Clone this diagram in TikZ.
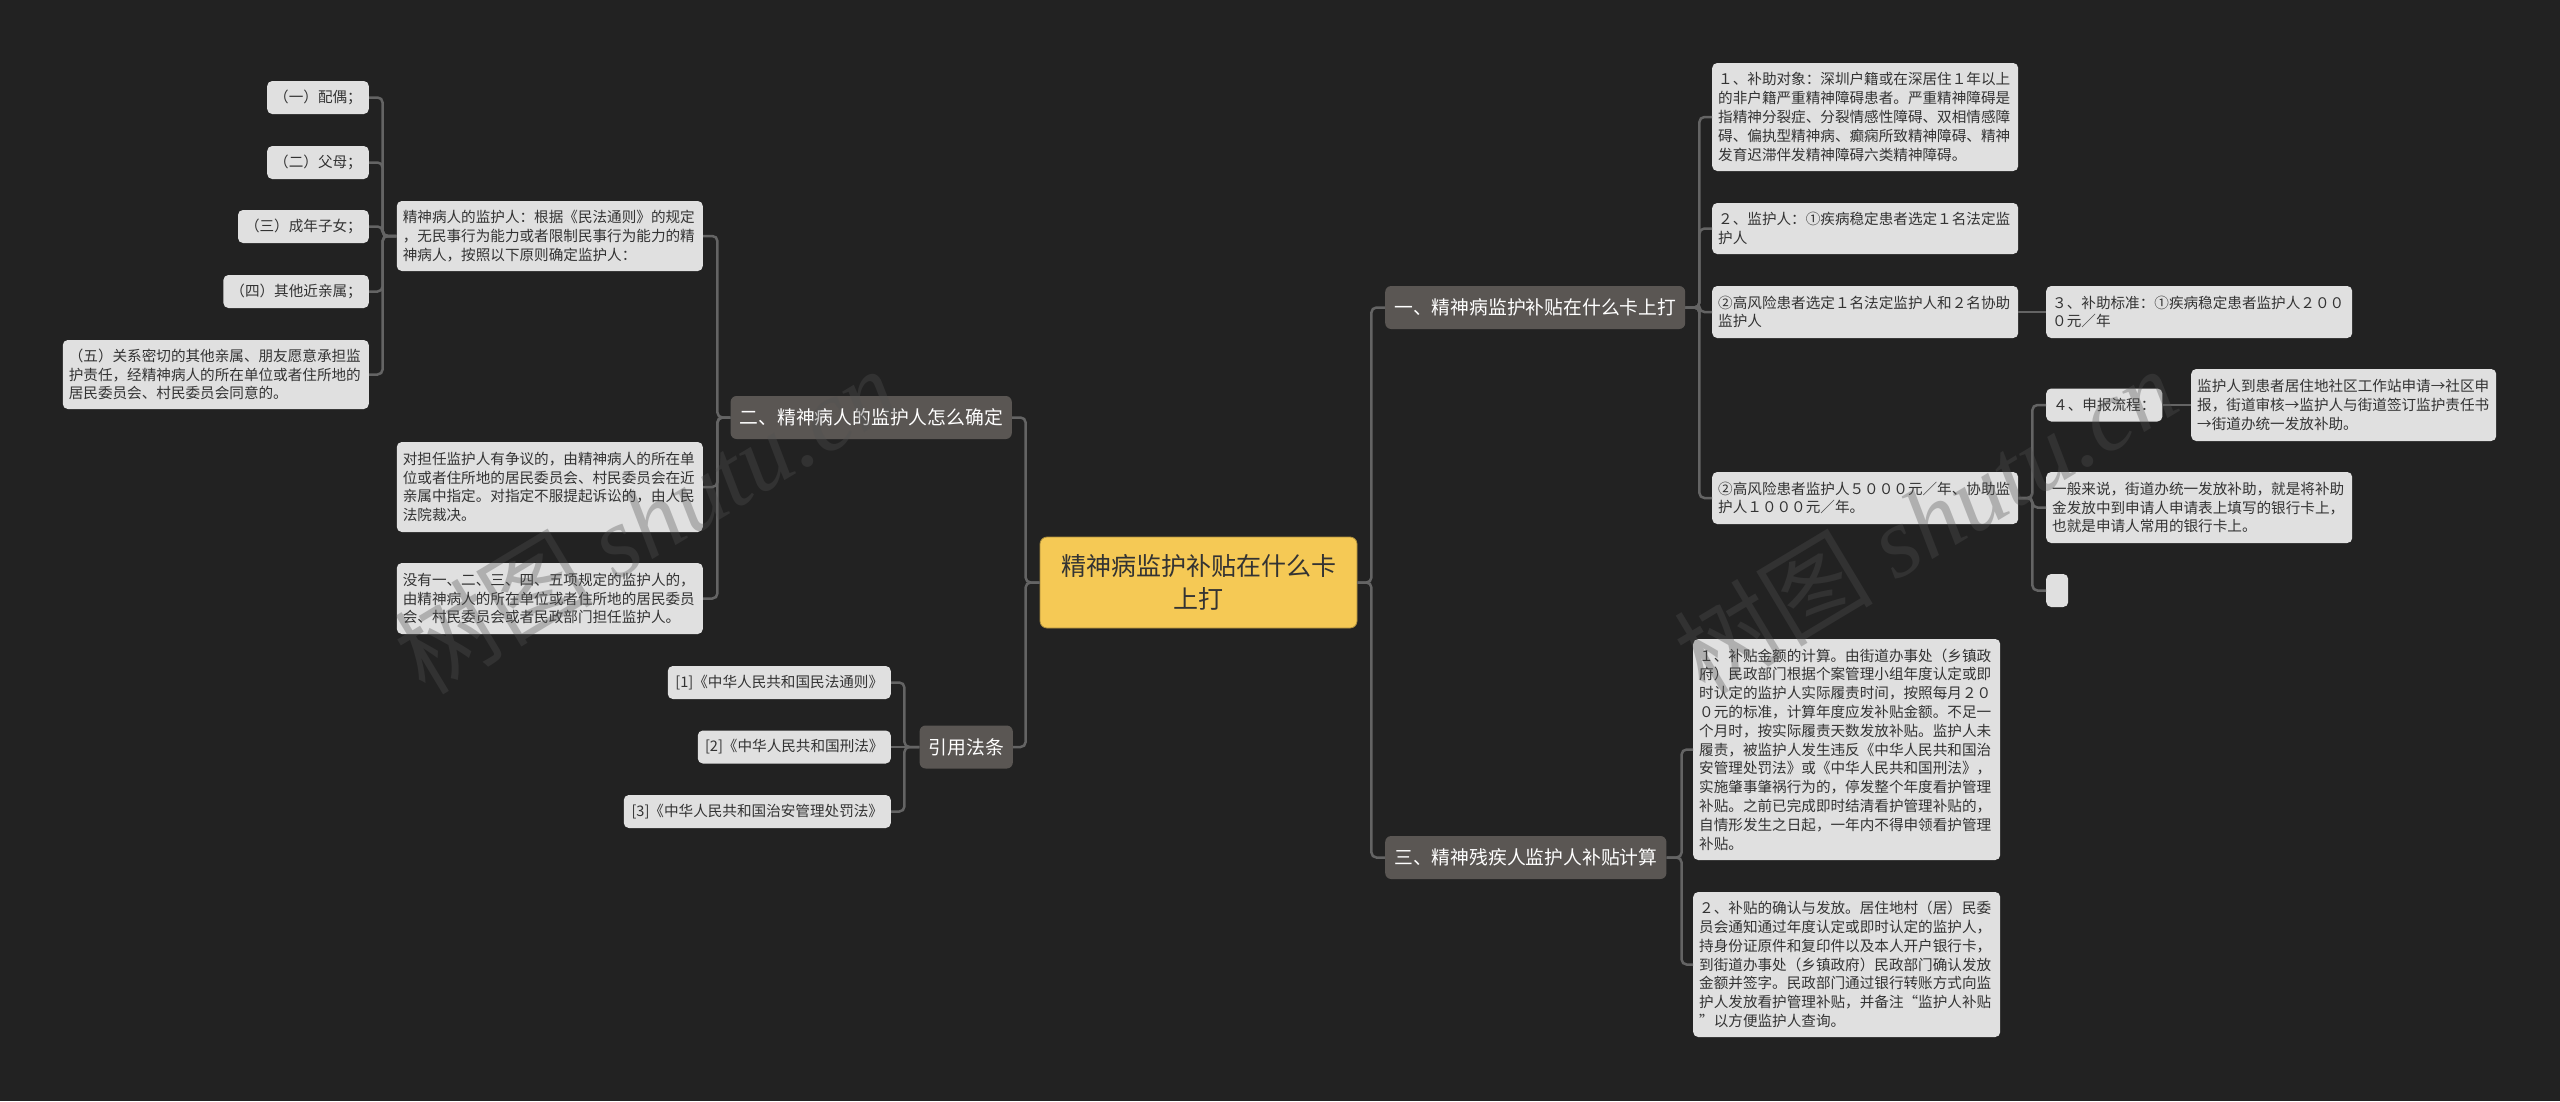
\documentclass[tikz,border=0pt]{standalone}
\usepackage{fontspec}
\setmainfont{Noto Sans CJK SC}
\newfontfamily\wmlatin{Liberation Serif}
\definecolor{bgc}{HTML}{222222}
\definecolor{leafc}{HTML}{E0E0E0}
\definecolor{leaftxt}{HTML}{333333}
\definecolor{branchc}{HTML}{5A5653}
\definecolor{rootc}{HTML}{F5C955}
\definecolor{wirec}{HTML}{646464}
\definecolor{wmc}{HTML}{515151}
\tikzset{
  leafbox/.style={fill=leafc, text=leaftxt, rounded corners=5pt, inner xsep=6pt, inner ysep=0pt,
    font=\fontsize{14.6}{18.8}\selectfont, align=left},
  leafone/.style={leafbox, inner xsep=7pt, minimum height=33pt, align=center},
  branchbox/.style={fill=branchc, text=white, rounded corners=6pt, inner xsep=9pt, inner ysep=0pt,
    minimum height=43pt, font=\fontsize{18.8}{22}\selectfont},
  rootbox/.style={fill=rootc, draw=rootc!70!black, line width=0.8pt, text=leaftxt, rounded corners=7pt,
    minimum width=317pt, minimum height=91pt, align=center, font=\fontsize{25}{33}\selectfont},
  wire/.style={draw=wirec, line width=2.5pt, rounded corners=5pt},
  wmark/.style={rotate=31, text=wmc, opacity=0.34, font=\fontsize{100}{100}\selectfont}
}
\begin{document}
\begin{tikzpicture}[x=1pt,y=-1pt]
\fill[bgc] (0,0) rectangle (2560,1101);
\useasboundingbox (0,0) rectangle (2560,1101);

% root
\node[rootbox] (root) at (1198.5,582.5) {精神病监护补贴在什么卡\\上打};

% main branches
\node[branchbox, anchor=east] (b2) at (1012,417.5) {二、精神病人的监护人怎么确定};
\node[branchbox, anchor=east] (b4) at (1013,747) {引用法条};
\node[branchbox, anchor=west] (b1) at (1385,307.5) {一、精神病监护补贴在什么卡上打};
\node[branchbox, anchor=west] (b3) at (1385,857.5) {三、精神残疾人监护人补贴计算};

% left: under 二
\node[leafbox, anchor=east, text width=294pt, minimum height=70pt] (l1) at (703,236)
 {精神病人的监护人：根据《民法通则》的规定\\，无民事行为能力或者限制民事行为能力的精\\神病人，按照以下原则确定监护人：};
\node[leafbox, anchor=east, text width=294pt, minimum height=90pt] (l2) at (703,487)
 {对担任监护人有争议的，由精神病人的所在单\\位或者住所地的居民委员会、村民委员会在近\\亲属中指定。对指定不服提起诉讼的，由人民\\法院裁决。};
\node[leafbox, anchor=east, text width=294pt, minimum height=71pt] (l3) at (703,598.5)
 {没有一、二、三、四、五项规定的监护人的，\\由精神病人的所在单位或者住所地的居民委员\\会、村民委员会或者民政部门担任监护人。};

\node[leafone, anchor=east] (k1) at (369,97.5) {（一）配偶；};
\node[leafone, anchor=east] (k2) at (369,162.5) {（二）父母；};
\node[leafone, anchor=east] (k3) at (369,226.5) {（三）成年子女；};
\node[leafone, anchor=east] (k4) at (369,291.5) {（四）其他近亲属；};
\node[leafbox, anchor=east, text width=294pt, minimum height=69pt] (k5) at (369,374.5)
 {（五）关系密切的其他亲属、朋友愿意承担监\\护责任，经精神病人的所在单位或者住所地的\\居民委员会、村民委员会同意的。};

% left: references
\node[leafone, anchor=east, minimum width=223pt] (f1) at (891,682.5) {[1]《中华人民共和国民法通则》};
\node[leafone, anchor=east, minimum width=193pt] (f2) at (891,747) {[2]《中华人民共和国刑法》};
\node[leafone, anchor=east, minimum width=267pt] (f3) at (891,811.5) {[3]《中华人民共和国治安管理处罚法》};

% right: under 一
\node[leafbox, anchor=west, text width=294pt, minimum height=108pt] (r1) at (1712,117)
 {１、补助对象：深圳户籍或在深居住１年以上\\的非户籍严重精神障碍患者。严重精神障碍是\\指精神分裂症、分裂情感性障碍、双相情感障\\碍、偏执型精神病、癫痫所致精神障碍、精神\\发育迟滞伴发精神障碍六类精神障碍。};
\node[leafbox, anchor=west, text width=294pt, minimum height=51pt] (r2) at (1712,228.5)
 {２、监护人：①疾病稳定患者选定１名法定监\\护人};
\node[leafbox, anchor=west, text width=294pt, minimum height=52pt] (r3) at (1712,312)
 {②高风险患者选定１名法定监护人和２名协助\\监护人};
\node[leafbox, anchor=west, text width=294pt, minimum height=52pt] (r4) at (1712,498)
 {②高风险患者监护人５０００元／年、协助监\\护人１０００元／年。};

\node[leafbox, anchor=west, text width=294pt, minimum height=52pt] (r3a) at (2046,312)
 {３、补助标准：①疾病稳定患者监护人２００\\０元／年};
\node[leafone, anchor=west] (s1) at (2046,405) {４、申报流程：};
\node[leafbox, anchor=west, text width=293pt, minimum height=72pt] (s1a) at (2191,405)
 {监护人到患者居住地社区工作站申请→社区申\\报，街道审核→监护人与街道签订监护责任书\\→街道办统一发放补助。};
\node[leafbox, anchor=west, text width=294pt, minimum height=71pt] (s2) at (2046,507.5)
 {一般来说，街道办统一发放补助，就是将补助\\金发放中到申请人申请表上填写的银行卡上，\\也就是申请人常用的银行卡上。};
\node[leafbox, anchor=west, minimum width=22pt, minimum height=33pt, inner xsep=0pt] (s3) at (2046,590.5) {};

% right: under 三
\node[leafbox, anchor=west, text width=295pt, minimum height=221pt] (t1) at (1693,749.5)
 {１、补贴金额的计算。由街道办事处（乡镇政\\府）民政部门根据个案管理小组年度认定或即\\时认定的监护人实际履责时间，按照每月２０\\０元的标准，计算年度应发补贴金额。不足一\\个月时，按实际履责天数发放补贴。监护人未\\履责，被监护人发生违反《中华人民共和国治\\安管理处罚法》或《中华人民共和国刑法》，\\实施肇事肇祸行为的，停发整个年度看护管理\\补贴。之前已完成即时结清看护管理补贴的，\\自情形发生之日起，一年内不得申领看护管理\\补贴。};
\node[leafbox, anchor=west, text width=295pt, minimum height=145pt] (t2) at (1693,964.5)
 {２、补贴的确认与发放。居住地村（居）民委\\员会通知通过年度认定或即时认定的监护人，\\持身份证原件和复印件以及本人开户银行卡，\\到街道办事处（乡镇政府）民政部门确认发放\\金额并签字。民政部门通过银行转账方式向监\\护人发放看护管理补贴，并备注“监护人补贴\\”以方便监护人查询。};

% connectors
\draw[wire] (root.west) -- ++(-14,0) |- (b2.east);
\draw[wire] (root.west) -- ++(-14,0) |- (b4.east);
\draw[wire] (root.east) -- ++(14,0) |- (b1.west);
\draw[wire] (root.east) -- ++(14,0) |- (b3.west);

\foreach \c in {l1,l2,l3} \draw[wire] (b2.west) -- ++(-13,0) |- (\c.east);
\foreach \c in {k1,k2,k3,k4,k5} \draw[wire] (l1.west) -- ++(-14,0) |- (\c.east);
\draw[wire] (b4.west) -- ++(-15,0) |- (f1.east);
\draw[wire] (b4.west) -- (f2.east);
\draw[wire] (b4.west) -- ++(-15,0) |- (f3.east);

\foreach \c in {r1,r2,r3,r4} \draw[wire] (b1.east) -- ++(14,0) |- (\c.west);
\draw[wire] (r3.east) -- (r3a.west);
\foreach \c in {s1,s2,s3} \draw[wire] (r4.east) -- ++(14,0) |- (\c.west);
\draw[wire] (s1.east) -- (s1a.west);
\foreach \c in {t1,t2} \draw[wire] (b3.east) -- ++(15,0) |- (\c.west);

% watermarks
\node[wmark] (wm1) at (645,520) {树图 {\wmlatin\itshape shutu.cn}};
\node[wmark] (wm2) at (1925,520) {树图 {\wmlatin\itshape shutu.cn}};
\end{tikzpicture}
\end{document}
